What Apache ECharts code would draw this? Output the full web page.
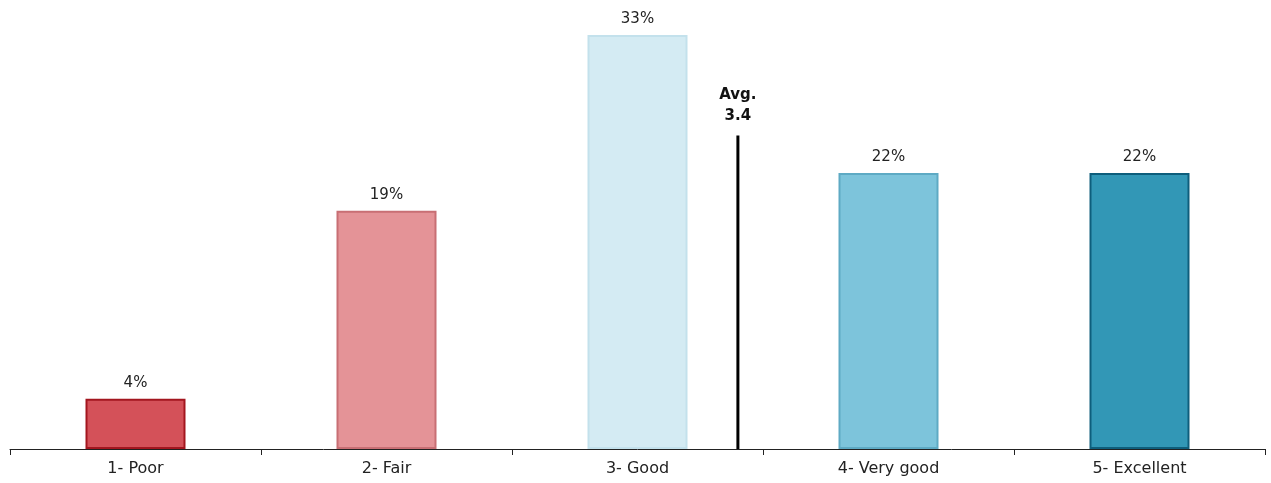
<!DOCTYPE html>
<html>
<head>
<meta charset="utf-8">
<script src="https://cdn.jsdelivr.net/npm/echarts@6/dist/echarts.min.js"></script>
<style>
  html, body { margin: 0; padding: 0; background: #fff; }
  #chart { width: 1271px; height: 483px; }
</style>
</head>
<body>
<div id="chart"></div>
<script>
// Rating distribution (share of responses, %)
const categories = ['1- Poor', '2- Fair', '3- Good', '4- Very good', '5- Excellent'];
const shares = [4, 19, 33, 22, 22];
const fillColors = ['#d45159', '#e49397', '#d4ebf3', '#7dc4db', '#3297b6'];
const edgeColors = ['#a3161f', '#c86f74', '#c3e1ec', '#5eaac4', '#0e5e7c'];

// Average rating marker
const avgScore = 3.4;
const avgLineTop = 25;

const font = '"DejaVu Sans", "Liberation Sans", sans-serif';

const chart = echarts.init(document.getElementById('chart'));

const barData = shares.map((v, i) => ({
  value: v,
  itemStyle: {
    color: fillColors[i],
    borderColor: edgeColors[i],
    borderWidth: 2
  }
}));

chart.setOption({
  animation: false,
  grid: { left: 10, right: 6, top: 10, bottom: 34 },
  xAxis: [
    {
      type: 'category',
      data: categories,
      axisLine: { lineStyle: { color: '#222', width: 1 } },
      axisTick: { show: true, length: 6, lineStyle: { color: '#222' } },
      axisLabel: { color: '#222', fontSize: 16, fontFamily: font, margin: 12 }
    },
    {
      type: 'value',
      min: 0.5,
      max: 5.5,
      show: false
    }
  ],
  yAxis: {
    type: 'value',
    min: 0,
    max: 35,
    show: false,
    splitLine: { show: false }
  },
  series: [
    {
      type: 'bar',
      data: barData,
      barWidth: 100,
      label: {
        show: true,
        position: 'top',
        distance: 8,
        formatter: '{c}%',
        color: '#222',
        fontSize: 15,
        fontFamily: font
      }
    },
    {
      type: 'line',
      xAxisIndex: 1,
      symbol: 'circle',
      symbolSize: 1,
      itemStyle: { color: 'rgba(0,0,0,0)' },
      lineStyle: { color: '#000', width: 3 },
      data: [[avgScore, 0], [avgScore, avgLineTop]],
      label: {
        show: true,
        position: 'top',
        distance: 8,
        formatter: p => (p.dataIndex === 1 ? 'Avg.\n' + avgScore.toFixed(1) : ''),
        color: '#111',
        fontWeight: 'bold',
        fontSize: 15,
        lineHeight: 21,
        fontFamily: font
      }
    }
  ]
});
</script>
</body>
</html>
